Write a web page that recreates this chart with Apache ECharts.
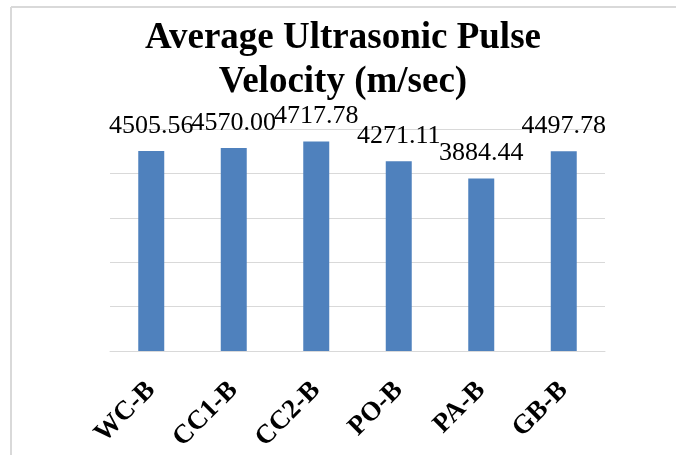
<!DOCTYPE html>
<html>
<head>
<meta charset="utf-8">
<script src="https://cdn.jsdelivr.net/npm/echarts@6/dist/echarts.min.js"></script>
<style>
html,body{margin:0;padding:0;background:#fff;}
#chart{width:676px;height:455px;}
</style>
</head>
<body>
<div id="chart"></div>
<script>
const categories = ['WC-B', 'CC1-B', 'CC2-B', 'PO-B', 'PA-B', 'GB-B'];
const velocities = [4505.56, 4570.00, 4717.78, 4271.11, 3884.44, 4497.78];
const titleText = 'Average Ultrasonic Pulse\nVelocity (m/sec)';

const chart = echarts.init(document.getElementById('chart'), null, {renderer: 'canvas'});
const serif = '"Liberation Serif", "Times New Roman", serif';
chart.setOption({
  animation: false,
  backgroundColor: '#ffffff',
  title: {
    text: titleText,
    left: 338,
    top: 11,
    textAlign: 'center',
    textStyle: {fontFamily: serif, fontWeight: 'bold', fontSize: 37, lineHeight: 44, color: '#000'}
  },
  graphic: [
    {type: 'line', shape: {x1: 11, y1: 7, x2: 676, y2: 7}, style: {stroke: '#d9d9d9', lineWidth: 2}},
    {type: 'line', shape: {x1: 11, y1: 7, x2: 11, y2: 455}, style: {stroke: '#d9d9d9', lineWidth: 2}}
  ],
  grid: {left: 110, right: 71, top: 129, bottom: 104},
  xAxis: {
    type: 'category',
    data: categories,
    axisLine: {lineStyle: {color: '#d9d9d9', width: 1}},
    axisTick: {show: false},
    axisLabel: {rotate: 45, margin: 35, fontFamily: serif, fontWeight: 'bold', fontSize: 27, color: '#000'}
  },
  yAxis: {
    type: 'value',
    min: 0, max: 5000, interval: 1000,
    axisLabel: {show: false},
    axisLine: {show: false},
    axisTick: {show: false},
    splitLine: {lineStyle: {color: '#d9d9d9', width: 1}}
  },
  series: [{
    type: 'bar',
    data: velocities,
    barWidth: '31.5%',
    itemStyle: {color: '#4F81BD'},
    label: {
      show: true,
      position: 'top',
      distance: 12,
      fontFamily: serif,
      fontSize: 26,
      color: '#000',
      formatter: p => p.value.toFixed(2)
    }
  }]
});
</script>
</body>
</html>
